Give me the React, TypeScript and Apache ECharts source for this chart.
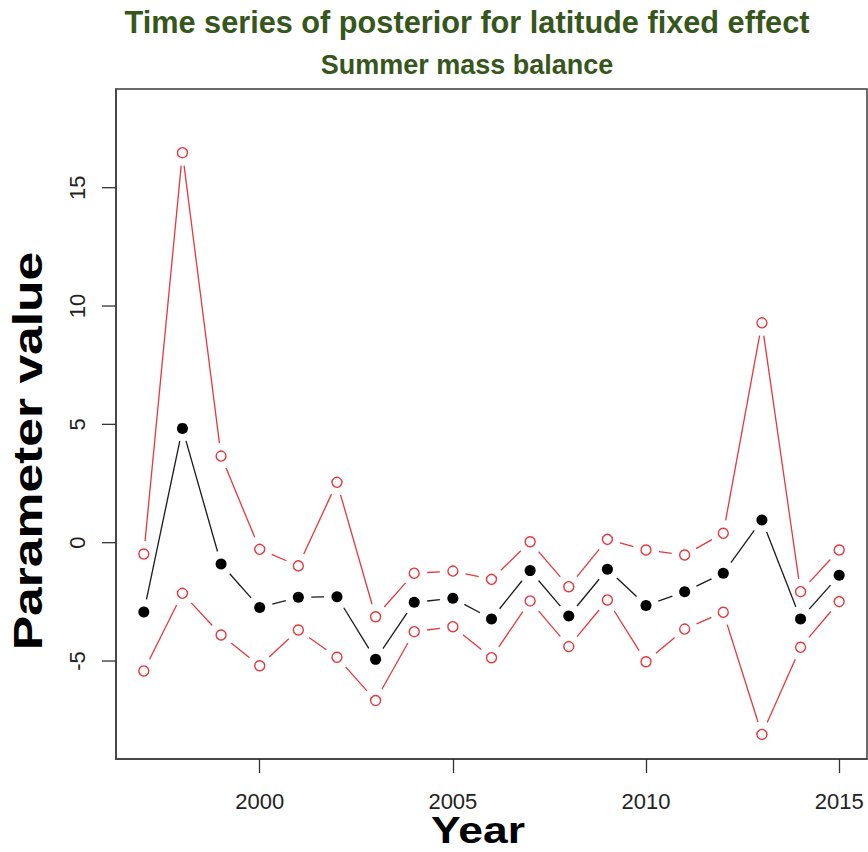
import React, { useEffect, useRef } from "react";
import * as echarts from "echarts";

// Posterior summary of the latitude fixed effect, by year
const years = [1997, 1998, 1999, 2000, 2001, 2002, 2003, 2004, 2005, 2006, 2007, 2008, 2009, 2010, 2011, 2012, 2013, 2014, 2015];
const meanValues = [-2.93, 4.83, -0.9, -2.74, -2.31, -2.28, -4.93, -2.52, -2.35, -3.22, -1.18, -3.1, -1.12, -2.65, -2.07, -1.29, 0.96, -3.22, -1.38];
const upperValues = [-0.48, 16.48, 3.66, -0.28, -0.98, 2.55, -3.13, -1.29, -1.2, -1.55, 0.04, -1.86, 0.14, -0.31, -0.52, 0.4, 9.29, -2.07, -0.31];
const lowerValues = [-5.42, -2.14, -3.9, -5.2, -3.69, -4.84, -6.67, -3.76, -3.55, -4.86, -2.46, -4.39, -2.42, -5.03, -3.65, -2.94, -8.1, -4.42, -2.49];

const xTicks = [2000, 2005, 2010, 2015];
const yTicks = [-5, 0, 5, 10, 15];

const titleText = "Time series of posterior for latitude fixed effect";
const subtitleText = "Summer mass balance";
const xName = "Year";
const yName = "Parameter value";

const X_MIN = 1996.28;
const X_MAX = 2015.72;
const Y_MIN = -9.14;
const Y_MAX = 19.17;

const FONT = '"Liberation Sans", Arial, Helvetica, sans-serif';
const RED = "#e5383f";
const DARK = "#1a1a1a";
const TITLE_GREEN = "#36561c";
const FRAME = "#3c3c3c";
const TICK_LEN = 14;

// consecutive point pairs, used to draw R-style "b" lines (segments with gaps)
function segments(values: number[]) {
  const out: number[][] = [];
  for (let i = 0; i < years.length - 1; i++) {
    out.push([years[i], values[i], years[i + 1], values[i + 1]]);
  }
  return out;
}

function gapLineSeries(values: number[], color: string, width: number) {
  return {
    type: "custom",
    data: segments(values),
    encode: { x: [0, 2], y: [1, 3] },
    silent: true,
    z: 2,
    renderItem: (_params: any, api: any) => {
      const a = api.coord([api.value(0), api.value(1)]);
      const b = api.coord([api.value(2), api.value(3)]);
      const dx = b[0] - a[0];
      const dy = b[1] - a[1];
      const len = Math.hypot(dx, dy);
      const gap = 13;
      if (len <= 2 * gap) return null;
      const ux = dx / len;
      const uy = dy / len;
      return {
        type: "line",
        shape: {
          x1: a[0] + ux * gap,
          y1: a[1] + uy * gap,
          x2: b[0] - ux * gap,
          y2: b[1] - uy * gap,
        },
        style: { stroke: color, lineWidth: width },
      };
    },
  };
}

function pointSeries(values: number[], filled: boolean) {
  return {
    type: "scatter",
    data: years.map((y, i) => [y, values[i]]),
    symbol: "circle",
    symbolSize: filled ? 11 : 10,
    z: 3,
    itemStyle: filled
      ? { color: "#000000", borderWidth: 0, opacity: 1 }
      : { color: "rgba(255,255,255,0)", borderColor: RED, borderWidth: 1.4, opacity: 1 },
  };
}

const textGraphics = [
  {
    type: "text",
    x: 467,
    y: 22,
    style: {
      text: titleText,
      font: `bold 30.7px ${FONT}`,
      fill: TITLE_GREEN,
      textAlign: "center",
      textVerticalAlign: "middle",
    },
  },
  {
    type: "text",
    x: 467,
    y: 65,
    style: {
      text: subtitleText,
      font: `bold 27px ${FONT}`,
      fill: TITLE_GREEN,
      textAlign: "center",
      textVerticalAlign: "middle",
    },
  },
  {
    type: "text",
    x: 478,
    y: 830,
    scaleX: 1.2,
    style: {
      text: xName,
      font: `bold 37px ${FONT}`,
      fill: "#000",
      textAlign: "center",
      textVerticalAlign: "middle",
    },
  },
  {
    type: "text",
    x: 28,
    y: 451,
    rotation: Math.PI / 2,
    scaleX: 1.29,
    style: {
      text: yName,
      font: `bold 40px ${FONT}`,
      fill: "#000",
      textAlign: "center",
      textVerticalAlign: "middle",
    },
  },
];

export default function App() {
  const ref = useRef<HTMLDivElement>(null);

  useEffect(() => {
    if (!ref.current) return;
    const chart = echarts.init(ref.current, null, { renderer: "svg" });
    chart.setOption({
      animation: false,
      backgroundColor: "#ffffff",
      grid: {
        left: 116,
        right: 1,
        top: 89,
        bottom: 93,
        show: true,
        borderColor: FRAME,
        borderWidth: 1.5,
        backgroundColor: "transparent",
      },
      xAxis: {
        type: "value",
        min: X_MIN,
        max: X_MAX,
        axisLine: { show: true, onZero: false, lineStyle: { color: FRAME, width: 1.5 } },
        splitLine: { show: false },
        axisTick: {
          show: true,
          length: TICK_LEN,
          customValues: xTicks,
          lineStyle: { color: "#333", width: 1.3 },
        },
        axisLabel: {
          customValues: xTicks,
          formatter: (v: number) => String(v),
          margin: 31,
          fontSize: 22,
          fontFamily: FONT,
          color: "#222",
          showMinLabel: true,
          showMaxLabel: true,
        },
      },
      yAxis: {
        type: "value",
        min: Y_MIN,
        max: Y_MAX,
        axisLine: { show: true, onZero: false, lineStyle: { color: FRAME, width: 1.5 } },
        splitLine: { show: false },
        axisTick: { show: false },
        axisLabel: {
          customValues: yTicks,
          formatter: (v: number) => String(v),
          rotate: 90,
          margin: 28,
          fontSize: 22,
          fontFamily: FONT,
          color: "#222",
        },
      },
      graphic: textGraphics,
      series: [
        gapLineSeries(upperValues, RED, 1.3),
        gapLineSeries(lowerValues, RED, 1.3),
        gapLineSeries(meanValues, DARK, 1.3),
        pointSeries(upperValues, false),
        pointSeries(lowerValues, false),
        pointSeries(meanValues, true),
      ],
    });

    // outward tick marks on the left frame, placed through the y scale
    const tickLines = yTicks.map((v) => {
      const p = chart.convertToPixel({ gridIndex: 0 }, [X_MIN, v]) as number[];
      return {
        type: "line",
        z: 10,
        shape: { x1: p[0] - TICK_LEN, y1: p[1], x2: p[0], y2: p[1] },
        style: { stroke: "#333", lineWidth: 1.3 },
      };
    });
    chart.setOption({ graphic: [...textGraphics, ...tickLines] });

    return () => chart.dispose();
  }, []);

  return (
    <div
      ref={ref}
      style={{ position: "fixed", left: 0, top: 0, width: 868, height: 852, background: "#fff" }}
    />
  );
}
